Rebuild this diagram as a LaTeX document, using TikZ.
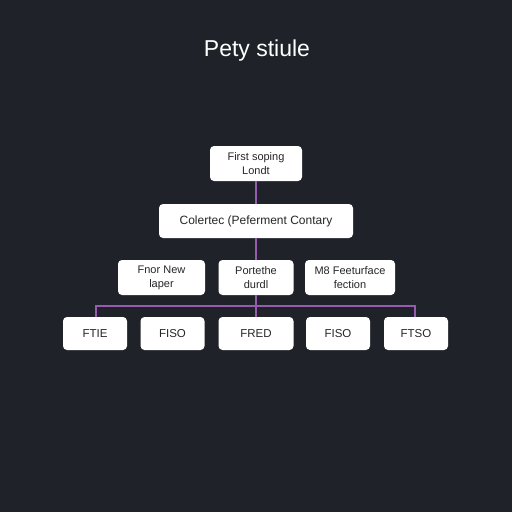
\documentclass[tikz,border=0pt]{standalone}
\usepackage{fontspec}
\setmainfont{Liberation Sans}
\definecolor{bgdark}{RGB}{31,35,41}
\definecolor{linkpurple}{RGB}{150,90,175}
\tikzset{
  box/.style={draw=none, fill=white, rounded corners=4pt, align=center,
    font=\fontsize{11}{14}\selectfont, text=black!85, inner sep=0pt},
  link/.style={linkpurple, line width=1.4pt}
}

\begin{document}
\begin{tikzpicture}[x=1pt, y=-1pt]
\fill [bgdark] (0,0) rectangle (512,512);
\node (title) at (257,51) [text=white, font=\fontsize{23}{26}\selectfont] {Pety stiule};
% top levels
\node (lead) at (256,163.5) [box, minimum width=92pt, minimum height=35pt] {First soping\\Londt};
\node (core) at (256,221) [box, minimum width=194pt, minimum height=34pt, font=\fontsize{12}{14}\selectfont] {Colertec (Peferment Contary};
% middle row
\node (mida) at (161.5,277.5) [box, minimum width=87pt, minimum height=35pt] {Fnor New\\laper};
\node (midb) at (256,277.5) [box, minimum width=75pt, minimum height=35pt] {Portethe\\durdl};
\node (midc) at (350,277.5) [box, minimum width=90pt, minimum height=35pt] {M8 Feeturface\\fection};
% bottom row
\node (fa) at (95,333.5) [box, minimum width=64pt, minimum height=33pt, font=\fontsize{11.5}{14}\selectfont] {FTIE};
\node (fb) at (172.5,333.5) [box, minimum width=64pt, minimum height=33pt, font=\fontsize{11.5}{14}\selectfont] {FISO};
\node (fc) at (256,333.5) [box, minimum width=75pt, minimum height=33pt, font=\fontsize{11.5}{14}\selectfont] {FRED};
\node (fd) at (338,333.5) [box, minimum width=64pt, minimum height=33pt, font=\fontsize{11.5}{14}\selectfont] {FISO};
\node (fe) at (416,333.5) [box, minimum width=64pt, minimum height=33pt, font=\fontsize{11.5}{14}\selectfont] {FTSO};
% connectors
\coordinate (barl) at (96,306);
\coordinate (barr) at (415,306);
\draw [link] (lead.south) -- (core.north);
\draw [link] (core.south) -- (midb.north);
\draw [link] (midb.south) -- (fc.north);
\draw [link] (fa.north -| barl) -- (barl) -- (barr) -- (fe.north -| barr);
\end{tikzpicture}
\end{document}
